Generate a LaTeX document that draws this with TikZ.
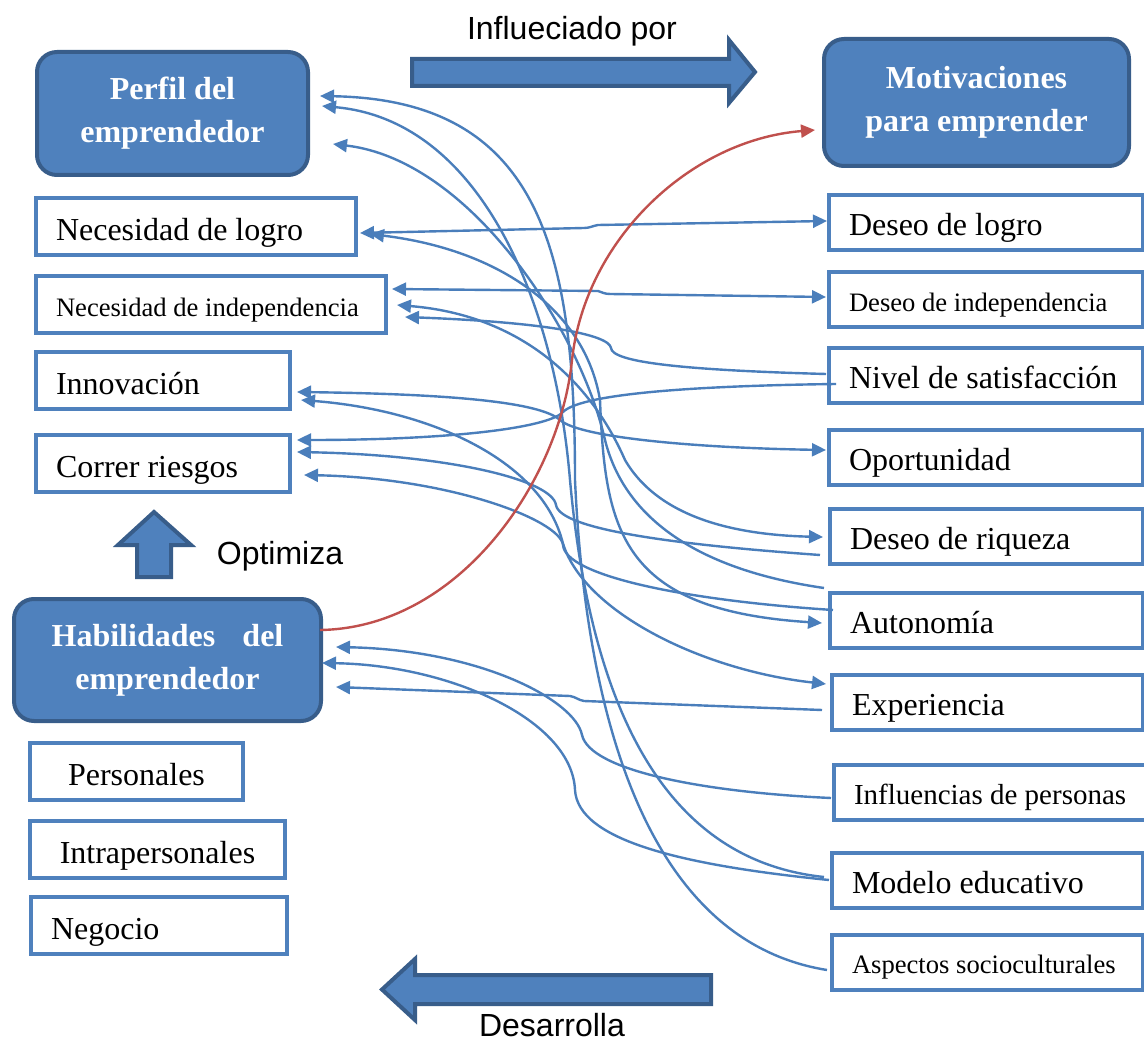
\documentclass[tikz,border=0pt]{standalone}
\usepackage{fontspec}
\setmainfont{Liberation Serif}
\setsansfont{Liberation Sans}
\usetikzlibrary{calc, arrows.meta}

\definecolor{boxblue}{HTML}{4F81BD}
\definecolor{darkblue}{HTML}{385D8A}
\definecolor{linkblue}{HTML}{4A7EBB}
\definecolor{linkred}{HTML}{C0504D}

\tikzset{
  hdrbox/.style={rectangle, rounded corners=10pt, draw=darkblue, line width=2pt, fill=boxblue, text=white, align=center, outer sep=0pt, font=\fontsize{16}{21.5}\selectfont\bfseries},
  item/.style={rectangle, draw=boxblue, line width=2pt, fill=white, anchor=west, align=flush left, inner xsep=10pt, inner ysep=0pt, minimum height=28.5pt, text height=13.5pt, text depth=0pt, outer sep=0pt, font=\fontsize{16}{19}\selectfont},
  ritem/.style={item, minimum height=27.5pt, text width=137pt, text height=13pt},
  small/.style={font=\fontsize{13.3}{16}\selectfont, text height=11.5pt},
  link/.style={draw=linkblue, line width=1.2pt, -{Triangle[length=7pt,width=6.5pt]}},
  both/.style={link, {Triangle[length=7pt,width=6.5pt]}-{Triangle[length=7pt,width=6.5pt]}},
  bigarrow/.style={draw=darkblue, line width=2pt, fill=boxblue, line join=miter},
  tag/.style={font=\sffamily\fontsize{16}{19}\selectfont}
}

\begin{document}
\begin{tikzpicture}[x=0.5pt, y=-0.5pt]
  \useasboundingbox (0,0) rectangle (1144,1042);

  % Main blocks
  \node[hdrbox, minimum width=135.5pt, minimum height=61.5pt] (perfil) at (172.5,113.5) {Perfil del\\emprendedor};
  \node[hdrbox, minimum width=152.5pt, minimum height=63.5pt] (motiv) at (976.5,102.5) {Motivaciones\\para emprender};
  \node[hdrbox, minimum width=153.5pt, minimum height=61pt] (habil) at (167.5,660) {Habilidades\hspace{0.6em} del\\emprendedor};

  % Profile traits
  \node[item, text width=140pt] (nlogro) at (36,227) {Necesidad de logro};
  \node[item, small, text width=155pt] (nindep) at (36,305) {Necesidad de independencia};
  \node[item, text width=107pt] (innov) at (36,380.5) {Innovación};
  \node[item, text width=107pt] (riesgo) at (36,463.5) {Correr riesgos};

  % Skills
  \node[item, text width=86.5pt, align=center] (pers) at (30,771.5) {Personales};
  \node[item, text width=107.5pt, align=center] (intra) at (30,849.5) {Intrapersonales};
  \node[item, text width=108pt] (negoc) at (31,925.5) {Negocio};

  % Motivations
  \node[ritem] (dlogro) at (829,222.5) {Deseo de logro};
  \node[ritem, small] (dindep) at (829,300) {Deseo de independencia};
  \node[ritem] (satisf) at (829,376) {Nivel de satisfacción};
  \node[ritem] (oport) at (829,457.5) {Oportunidad};
  \node[ritem, text width=136.5pt] (riqueza) at (830,536) {Deseo de riqueza};
  \node[ritem, text width=136.5pt] (auton) at (830,620) {Autonomía};
  \node[ritem, text width=135.5pt] (exper) at (832,702) {Experiencia};
  \node[ritem, text width=150pt, inner xsep=10pt, text height=12.5pt, font=\fontsize{14.5}{17}\selectfont] (influ) at (834,792) {Influencias de personas};
  \node[ritem, text width=135.5pt] (modelo) at (832,880) {Modelo educativo};
  \node[ritem, small, text width=135.5pt] (aspect) at (832,962) {Aspectos socioculturales};

  % Block arrows
  \draw[bigarrow] (412,59) -- (729,59) -- (729,40) -- (755,72) -- (729,103) -- (729,86) -- (412,86) -- cycle;
  \draw[bigarrow] (137,577) -- (137,545) -- (118,545) -- (154,512) -- (191,545) -- (171,545) -- (171,577) -- cycle;
  \draw[bigarrow] (711,975) -- (415,975) -- (415,959) -- (382,989.5) -- (415,1020) -- (415,1004) -- (711,1004) -- cycle;
  \node[tag] (infl) at (572,31) {Influeciado por};
  \node[tag] (optim) at (280,556) {Optimiza};
  \node[tag] (desar) at (552,1025) {Desarrolla};

  % Connectors
  \draw[both] ($(dlogro.west)+(-2,-1.5)$) -- (598,225) .. controls (592,226) and (590,228) .. (584,228) -- ($(nlogro.east)+(4,6)$);
  \draw[both] ($(dindep.west)+(-3,-3)$) -- (610,294) .. controls (604,294) and (602,292) .. (598,291) -- ($(nindep.east)+(6,-16)$);
  \draw[link] ($(satisf.west)+(-3,-2)$) .. controls (680,370) and (612,362) .. (611,348) .. controls (609,334) and (540,322) .. ($(nindep.east)+(19,12)$);
  \draw[link] ($(satisf.west)+(7,8)$) .. controls (680,386) and (580,395) .. (563,412) .. controls (548,428) and (450,440) .. ($(riesgo.east)+(7,-23.5)$);
  \draw[both] ($(oport.west)+(-3,-7.5)$) .. controls (700,448) and (580,438) .. (560,420) .. controls (540,402) and (450,394) .. ($(innov.east)+(7,11.5)$);
  \draw[both] ($(exper.west)+(-6,-18)$) .. controls (700,670) and (580,610) .. (562,540) .. controls (540,460) and (430,410) .. ($(innov.east)+(11,19.5)$);
  \draw[link] ($(riqueza.west)+(-10,19)$) .. controls (680,545) and (560,530) .. (556,505) .. controls (552,480) and (450,455) .. ($(riesgo.east)+(7,-11.5)$);
  \draw[link] ($(auton.west)+(3,-10)$) .. controls (680,600) and (565,575) .. (563,545) .. controls (560,520) and (450,478) .. ($(riesgo.east)+(14,11.5)$);
  \draw[both] ($(auton.west)+(-8,3)$) .. controls (620,610) and (605,530) .. (600,400) .. controls (585,310) and (500,250) .. ($(nlogro.east)+(14,7)$);
  \draw[both] ($(riqueza.west)+(-7,1)$) .. controls (740,535) and (660,520) .. (625,460) .. controls (590,380) and (520,315) .. ($(nindep.east)+(11,0)$);
  \draw[link] ($(aspect.west)+(-5,8)$) .. controls (640,940) and (585,700) .. (575,480) .. controls (575,250) and (540,100) .. ($(perfil.east)+(12,-17.5)$);
  \draw[link] ($(modelo.west)+(-8,-3)$) .. controls (660,860) and (590,700) .. (570,480) .. controls (555,300) and (480,120) .. ($(perfil.east)+(14,-7.5)$);
  \draw[link] ($(auton.west)+(-6,-32)$) .. controls (700,570) and (625,520) .. (605,440) .. controls (580,330) and (470,160) .. ($(perfil.east)+(25,30.5)$);
  \draw[link] ($(influ.west)+(-3,6)$) .. controls (700,792) and (590,770) .. (582,735) .. controls (575,700) and (480,650) .. ($(habil.east)+(15,-13)$);
  \draw[link] ($(modelo.west)+(-3,0)$) .. controls (680,865) and (578,840) .. (575,790) .. controls (572,720) and (450,665) .. ($(habil.east)+(1,3)$);
  \draw[link] ($(exper.west)+(-10,8)$) -- (584,701) .. controls (578,700) and (576,697) .. (570,696) -- ($(habil.east)+(15,27)$);
  \draw[link, draw=linkred] ($(habil.east)+(-1,-30)$) .. controls (460,628) and (560,480) .. (572,360) .. controls (585,240) and (690,140) .. ($(motiv.west)+(-9,27.5)$);
\end{tikzpicture}
\end{document}
